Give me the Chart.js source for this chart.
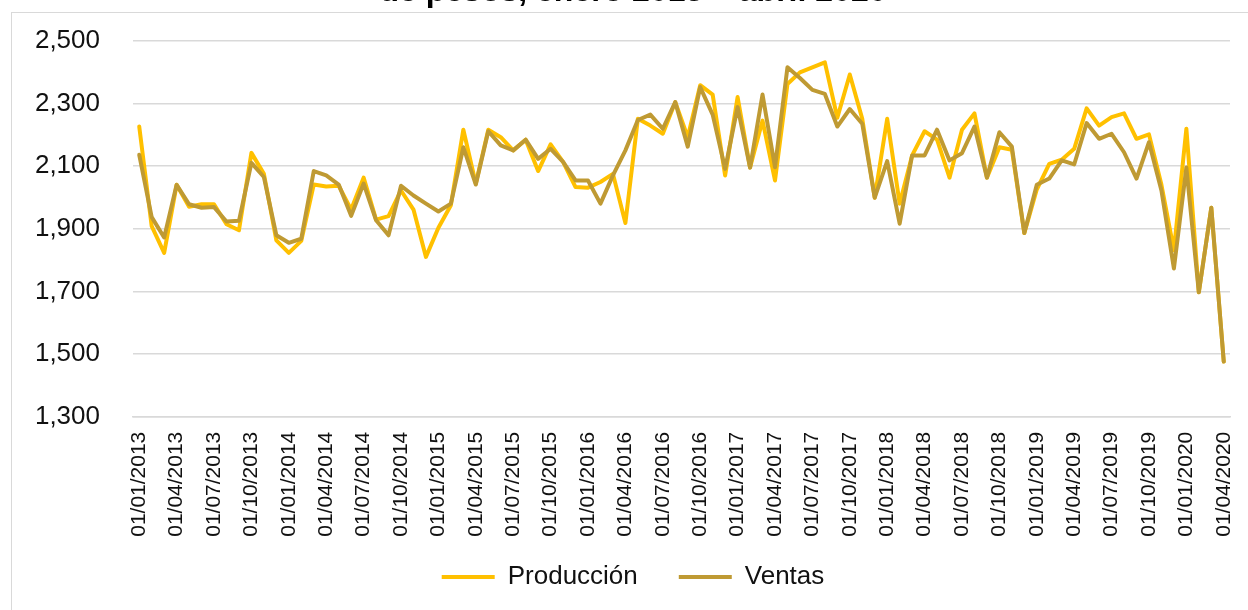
<!DOCTYPE html>
<html>
<head>
<meta charset="utf-8">
<script src="https://cdn.jsdelivr.net/npm/chart.js@4/dist/chart.umd.min.js"></script>
<style>
  html, body { margin: 0; padding: 0; background: #ffffff; overflow: hidden; }
  #page { position: relative; width: 1248px; height: 610px; overflow: hidden; background: #ffffff; }
  #frame { position: absolute; left: 11px; top: 12px; width: 1300px; height: 700px;
           border-left: 1px solid #d9d9d9; border-top: 1px solid #d9d9d9; box-sizing: border-box; }
  #wrap { position: absolute; left: 0; top: -21px; width: 1248px; height: 650px; }
</style>
</head>
<body>
<div id="page">
  <div id="frame"></div>
  <div id="wrap"><canvas id="c" width="1248" height="650"></canvas></div>
</div>
<script>
const titleText = "de pesos, enero 2013 – abril 2020";

const categories = [
  "01/01/2013","01/02/2013","01/03/2013","01/04/2013","01/05/2013","01/06/2013","01/07/2013","01/08/2013","01/09/2013","01/10/2013","01/11/2013","01/12/2013",
  "01/01/2014","01/02/2014","01/03/2014","01/04/2014","01/05/2014","01/06/2014","01/07/2014","01/08/2014","01/09/2014","01/10/2014","01/11/2014","01/12/2014",
  "01/01/2015","01/02/2015","01/03/2015","01/04/2015","01/05/2015","01/06/2015","01/07/2015","01/08/2015","01/09/2015","01/10/2015","01/11/2015","01/12/2015",
  "01/01/2016","01/02/2016","01/03/2016","01/04/2016","01/05/2016","01/06/2016","01/07/2016","01/08/2016","01/09/2016","01/10/2016","01/11/2016","01/12/2016",
  "01/01/2017","01/02/2017","01/03/2017","01/04/2017","01/05/2017","01/06/2017","01/07/2017","01/08/2017","01/09/2017","01/10/2017","01/11/2017","01/12/2017",
  "01/01/2018","01/02/2018","01/03/2018","01/04/2018","01/05/2018","01/06/2018","01/07/2018","01/08/2018","01/09/2018","01/10/2018","01/11/2018","01/12/2018",
  "01/01/2019","01/02/2019","01/03/2019","01/04/2019","01/05/2019","01/06/2019","01/07/2019","01/08/2019","01/09/2019","01/10/2019","01/11/2019","01/12/2019",
  "01/01/2020","01/02/2020","01/03/2020","01/04/2020"
];

// Tick labels shown on the category axis (every third month)
const tickLabels = [
  "01/01/2013","01/04/2013","01/07/2013","01/10/2013",
  "01/01/2014","01/04/2014","01/07/2014","01/10/2014",
  "01/01/2015","01/04/2015","01/07/2015","01/10/2015",
  "01/01/2016","01/04/2016","01/07/2016","01/10/2016",
  "01/01/2017","01/04/2017","01/07/2017","01/10/2017",
  "01/01/2018","01/04/2018","01/07/2018","01/10/2018",
  "01/01/2019","01/04/2019","01/07/2019","01/10/2019",
  "01/01/2020","01/04/2020"
];

const produccion = [
  2226,1908,1823,2040,1970,1978,1978,1914,1895,2142,2075,1863,
  1823,1861,2041,2035,2037,1961,2063,1929,1940,2022,1961,1810,
  1903,1975,2216,2044,2216,2192,2150,2184,2084,2169,2113,2033,
  2031,2049,2075,1918,2251,2229,2203,2304,2192,2358,2328,2070,
  2320,2095,2245,2054,2362,2399,2415,2431,2254,2392,2251,1999,
  2251,1980,2134,2211,2184,2063,2216,2268,2063,2160,2152,1886,
  2025,2107,2120,2155,2284,2229,2256,2268,2187,2201,2040,1831,
  2219,1697,1967,1476
];

const ventas = [
  2136,1937,1872,2040,1978,1967,1969,1923,1925,2110,2065,1879,
  1855,1868,2084,2070,2041,1941,2044,1927,1879,2037,2006,1980,
  1955,1980,2160,2041,2211,2166,2150,2184,2123,2155,2113,2054,
  2054,1980,2070,2150,2247,2264,2219,2304,2162,2352,2264,2091,
  2288,2095,2328,2096,2415,2381,2343,2330,2226,2282,2235,1999,
  2116,1916,2134,2134,2216,2118,2141,2226,2063,2208,2162,1886,
  2040,2060,2118,2105,2237,2187,2203,2144,2060,2176,2022,1773,
  2095,1697,1967,1476
];

const seriesNames = ["Producción", "Ventas"];
const seriesColors = ["#FFC000", "#BF9A33"];

const yMin = 1300, yMax = 2500, yStep = 200;

const FONT = "'Liberation Sans', Arial, sans-serif";

// Nudges the legend block upward so it sits closer to the axis labels
const legendLift = {
  id: 'legendLift',
  afterLayout(chart) {
    const lg = chart.legend;
    if (lg) { lg.top -= 14.7; lg.bottom -= 14.7; }
  }
};

new Chart(document.getElementById('c'), {
  type: 'line',
  data: {
    labels: categories,
    datasets: [
      { label: seriesNames[0], data: produccion, borderColor: seriesColors[0], backgroundColor: seriesColors[0],
        borderWidth: 4, pointRadius: 0, tension: 0, borderJoinStyle: 'round', borderCapStyle: 'round', order: 1 },
      { label: seriesNames[1], data: ventas, borderColor: seriesColors[1], backgroundColor: seriesColors[1],
        borderWidth: 4, pointRadius: 0, tension: 0, borderJoinStyle: 'round', borderCapStyle: 'round', order: 0 }
    ]
  },
  plugins: [legendLift],
  options: {
    responsive: false,
    animation: false,
    devicePixelRatio: 1,
    layout: { padding: { left: 36, right: 18, top: 0, bottom: 14.3 } },
    plugins: {
      tooltip: { enabled: false },
      title: {
        display: true, text: titleText, color: '#000',
        font: { family: FONT, size: 32, weight: 'bold', lineHeight: 0.8 },
        padding: { top: 0, bottom: 36.1 }
      },
      legend: {
        position: 'bottom',
        labels: {
          font: { family: FONT, size: 26 }, color: '#111',
          boxWidth: 53, boxHeight: 4, padding: 41,
          generateLabels: (chart) => {
            const items = Chart.defaults.plugins.legend.labels.generateLabels(chart);
            items.forEach(it => { it.lineWidth = 0; });
            return items;
          },
          sort: (a, b) => a.datasetIndex - b.datasetIndex
        }
      }
    },
    scales: {
      x: {
        type: 'category',
        offset: true,
        grid: { display: false, drawTicks: false },
        border: { display: true, color: '#d9d9d9', width: 1.5 },
        afterFit: (s) => { s.height = 121; s.paddingLeft = 0; s.paddingRight = 0; },
        ticks: {
          autoSkip: false, maxRotation: 90, minRotation: 90, padding: 15,
          color: '#111', font: { family: FONT, size: 21 },
          callback: function(v, i) {
            const lab = categories[i];
            return tickLabels.includes(lab) ? lab : '';
          }
        }
      },
      y: {
        min: yMin, max: yMax,
        afterFit: (s) => { s.width = 97; },
        grid: { color: '#d9d9d9', lineWidth: 1.5, drawTicks: false },
        border: { display: false },
        ticks: {
          stepSize: yStep, padding: 33, color: '#111',
          font: { family: FONT, size: 26 },
          callback: (v) => v.toLocaleString('en-US')
        }
      }
    }
  }
});
</script>
</body>
</html>
